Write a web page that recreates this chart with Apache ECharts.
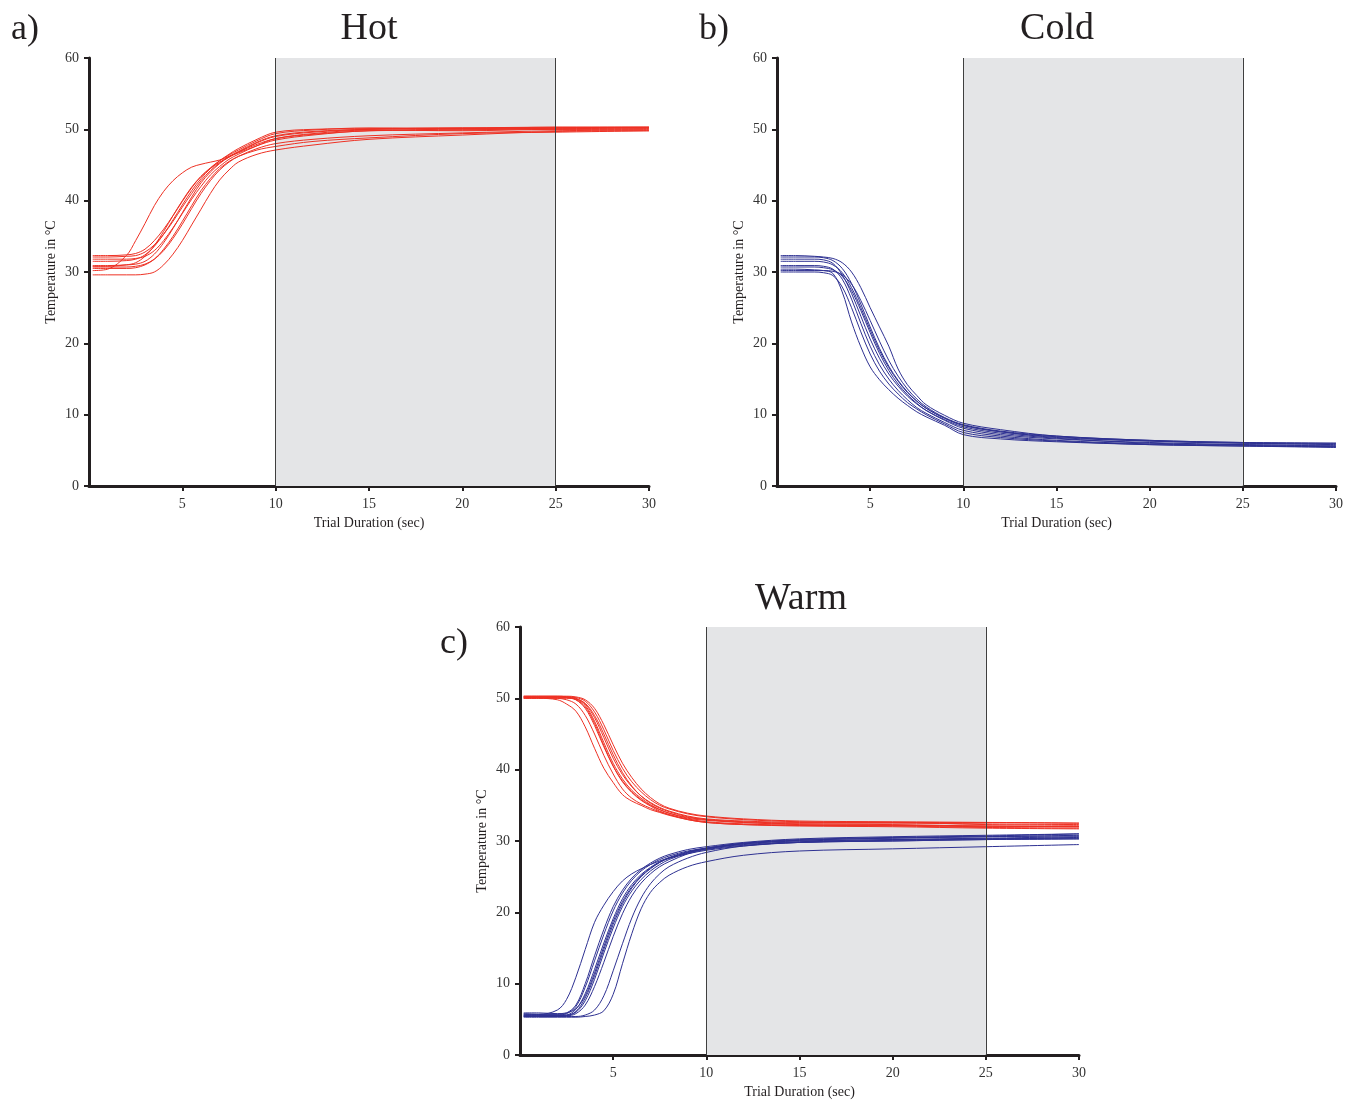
<!DOCTYPE html>
<html>
<head>
<meta charset="utf-8">
<script src="https://cdn.jsdelivr.net/npm/echarts@6/dist/echarts.min.js"></script>
<style>
html,body{margin:0;padding:0;background:#fff;}
#chart{width:1359px;height:1100px;}
</style>
</head>
<body>
<div id="chart"></div>
<script>
// Sample times (sec)
const times = [0.2, 1, 2, 2.5, 3, 3.5, 4, 4.5, 5, 5.5, 6, 6.5, 7, 7.5, 8, 9, 10, 12, 15, 20, 25, 30];

// a) Hot trials (°C)
const hotRuns = [
  [30.2,30.4,32.3,34.4,36.8,39.3,41.3,42.8,43.9,44.7,45.1,45.4,45.7,46.2,46.7,47.7,48.5,49.2,49.8,49.9,50.2,50.3],
  [29.6,29.6,29.6,29.6,29.7,30.0,31.0,32.5,34.4,36.6,38.8,41.0,42.9,44.3,45.4,46.5,47.1,47.8,48.6,49.2,49.7,49.8],
  [32.3,32.3,32.4,32.6,33.2,34.4,36.0,37.9,39.9,41.8,43.4,44.6,45.6,46.4,47.1,48.4,49.4,49.9,50.2,50.1,50.3,50.3],
  [32.1,32.1,32.2,32.3,32.8,33.8,35.3,37.1,39.1,41.0,42.8,44.2,45.3,46.2,46.9,48.2,49.1,49.7,50.0,50.2,50.1,50.2],
  [31.8,31.8,31.8,31.9,32.2,33.0,34.4,36.2,38.2,40.2,42.0,43.6,44.8,45.8,46.5,47.7,48.7,49.4,49.9,49.8,50.0,50.0],
  [31.5,31.5,31.6,31.8,32.4,33.6,35.3,37.3,39.4,41.4,43.1,44.5,45.6,46.5,47.3,48.6,49.6,50.0,50.1,50.2,50.3,50.3],
  [30.9,30.9,31.0,31.1,31.5,32.5,34.1,36.1,38.3,40.5,42.5,44.0,45.2,46.1,46.8,47.9,48.7,49.3,49.8,50.0,50.0,50.1],
  [30.7,30.7,30.7,30.8,31.1,31.8,33.0,34.7,36.7,38.9,41.0,42.8,44.3,45.4,46.2,47.3,48.0,48.6,49.1,49.5,49.8,49.9],
  [30.5,30.5,30.5,30.6,31.0,31.8,33.2,35.0,37.1,39.3,41.4,43.1,44.5,45.5,46.2,47.1,47.6,48.3,48.8,49.4,49.6,49.8],
  [30.8,30.8,31.0,31.3,32.2,33.7,35.7,37.9,40.0,41.9,43.4,44.5,45.4,46.1,46.8,48.1,49.0,49.6,50.0,50.1,50.2,50.2]
];

// b) Cold trials (°C)
const coldRuns = [
  [30.4,30.4,30.3,30.2,29.8,27.2,23.0,19.5,16.7,14.9,13.5,12.3,11.3,10.4,9.7,8.5,7.2,6.6,6.2,5.8,5.6,5.4],
  [32.3,32.3,32.2,32.1,31.9,31.3,30.0,27.8,25.0,22.3,19.6,16.4,14.2,12.7,11.4,9.9,8.8,7.9,7.0,6.4,6.1,6.0],
  [32.1,32.1,32.1,32.0,31.6,30.5,28.4,25.5,22.3,19.3,16.8,14.8,13.2,11.9,10.9,9.5,8.5,7.6,6.8,6.3,6.0,5.9],
  [31.8,31.8,31.8,31.7,31.2,29.6,27.0,23.8,20.6,17.9,15.7,14.0,12.6,11.5,10.6,9.3,8.3,7.4,6.7,6.0,5.8,5.6],
  [31.5,31.5,31.5,31.4,31.0,29.9,27.8,25.0,21.9,19.0,16.6,14.7,13.1,11.9,10.9,9.5,8.5,7.6,6.9,6.3,6.0,5.8],
  [30.9,30.9,30.9,30.8,30.4,29.0,26.2,22.8,19.6,17.0,15.0,13.4,12.1,11.0,10.2,8.9,7.8,7.0,6.4,5.9,5.7,5.5],
  [30.7,30.7,30.7,30.6,30.3,29.4,27.4,24.6,21.5,18.6,16.2,14.3,12.8,11.6,10.6,9.2,8.1,7.2,6.6,6.1,5.8,5.7],
  [30.2,30.2,30.2,30.2,30.1,29.6,28.3,26.0,23.2,20.3,17.6,15.4,13.6,12.2,11.1,9.6,8.6,7.7,7.0,6.4,6.1,6.0],
  [30.0,30.0,30.0,29.9,29.5,27.9,25.0,21.6,18.5,16.1,14.3,12.9,11.7,10.8,10.0,8.7,7.5,6.8,6.3,5.8,5.6,5.5]
];

// c) Warm trials starting hot (°C)
const warmFromHot = [
  [50.0,50.0,49.8,49.2,48.2,46.0,43.0,40.2,38.2,36.5,35.6,35.0,34.4,34.0,33.6,33.0,32.6,32.3,32.2,32.1,31.9,31.8],
  [50.1,50.1,50.0,49.8,49.2,47.6,45.0,42.0,39.4,37.3,36.0,35.2,34.6,34.1,33.7,33.1,32.7,32.4,32.2,32.2,32.0,32.0],
  [50.3,50.3,50.3,50.2,49.8,48.6,46.2,43.2,40.5,38.4,36.9,35.8,35.0,34.4,33.9,33.3,33.0,32.7,32.5,32.5,32.4,32.3],
  [50.2,50.2,50.2,50.2,50.0,49.2,47.3,44.5,41.6,39.3,37.6,36.3,35.4,34.7,34.2,33.5,33.1,32.8,32.6,32.6,32.3,32.2],
  [50.2,50.2,50.2,50.2,50.1,49.6,48.1,45.6,42.7,40.2,38.3,36.9,35.8,35.0,34.5,33.8,33.4,33.0,32.7,32.6,32.6,32.5],
  [50.1,50.1,50.1,50.1,49.9,49.0,46.8,43.8,40.9,38.7,37.1,36.0,35.1,34.4,33.9,33.2,32.9,32.6,32.4,32.3,32.1,32.0],
  [50.3,50.3,50.3,50.3,50.2,49.8,48.6,46.3,43.5,40.9,38.9,37.3,36.1,35.2,34.6,33.9,33.5,33.1,32.8,32.7,32.6,32.5],
  [50.2,50.2,50.2,50.1,49.8,48.8,46.5,43.4,40.5,38.3,36.8,35.7,34.9,34.2,33.7,33.0,32.6,32.3,32.1,32.0,31.8,31.7],
  [50.0,50.0,50.0,50.0,49.9,49.3,47.6,45.0,42.1,39.6,37.7,36.3,35.3,34.6,34.1,33.4,33.0,32.6,32.3,32.2,32.1,32.0]
];

// c) Warm trials starting cold (°C)
const warmFromCold = [
  [5.8,5.7,6.3,7.8,10.9,14.8,18.6,21.0,22.9,24.4,25.4,26.1,26.7,27.2,27.6,28.2,28.7,29.3,29.8,30.1,30.3,30.5],
  [5.3,5.3,5.3,5.3,5.3,5.4,5.6,6.2,8.5,12.8,17.0,20.5,22.8,24.2,25.2,26.4,27.1,28.0,28.6,28.9,29.2,29.5],
  [5.4,5.4,5.4,5.4,5.4,5.6,6.3,8.3,11.8,15.6,19.2,22.0,24.0,25.4,26.4,27.6,28.4,29.3,29.8,30.0,30.2,30.3],
  [5.6,5.6,5.6,5.8,6.8,9.5,13.2,16.9,20.2,22.7,24.5,25.8,26.7,27.4,27.9,28.6,29.0,29.7,30.2,30.5,30.7,31.0],
  [5.5,5.5,5.5,5.6,6.4,8.6,12.0,15.7,19.1,21.9,23.9,25.3,26.3,27.1,27.7,28.5,29.0,29.7,30.1,30.4,30.6,30.8],
  [5.7,5.7,5.7,5.9,7.0,10.0,13.9,17.6,20.8,23.1,24.8,26.0,26.9,27.6,28.1,28.8,29.2,29.8,30.3,30.6,30.8,31.0],
  [5.4,5.4,5.4,5.5,6.1,8.0,11.1,14.8,18.3,21.2,23.4,25.0,26.1,27.0,27.6,28.4,28.9,29.6,30.0,30.2,30.4,30.6],
  [5.9,5.9,5.8,5.9,6.5,8.3,11.5,15.2,18.7,21.5,23.6,25.1,26.2,27.0,27.6,28.4,29.0,29.6,30.1,30.4,30.6,30.7],
  [5.6,5.6,5.6,5.6,6.0,7.6,10.6,14.3,17.8,20.8,23.0,24.6,25.8,26.7,27.4,28.3,28.9,29.5,29.9,30.2,30.3,30.4],
  [5.5,5.5,5.5,5.5,5.8,7.0,9.6,13.0,16.6,19.8,22.3,24.1,25.4,26.4,27.1,28.2,28.8,29.4,29.8,30.0,30.2,30.3]
];

// Axis ticks / stimulus window
const xTicks = [0, 5, 10, 15, 20, 25, 30];
const yTicks = [0, 10, 20, 30, 40, 50, 60];
const windowStart = 10, windowEnd = 25;

const RED = '#ee3124';
const BLUE = '#2e3192';
const INK = '#231f20';
const FONT = '"Liberation Serif", "Times New Roman", serif';

const grids = [
  {left: 89, top: 58, width: 560, height: 428},
  {left: 777, top: 58, width: 559, height: 428},
  {left: 520, top: 627, width: 559, height: 428}
];

function xAxisFor(i) {
  return {
    gridIndex: i, type: 'value', min: xTicks[0], max: xTicks[xTicks.length - 1], interval: 5,
    name: 'Trial Duration (sec)', nameLocation: 'middle', nameGap: 30,
    nameTextStyle: {fontFamily: FONT, fontSize: 14, color: INK},
    axisLine: {show: true, onZero: false, lineStyle: {color: INK, width: 3}},
    axisTick: {show: true, length: 5, lineStyle: {color: INK, width: 2}},
    axisLabel: {showMinLabel: false, fontFamily: FONT, fontSize: 14, color: '#333', margin: 11},
    splitLine: {show: false}
  };
}
function yAxisFor(i) {
  return {
    gridIndex: i, type: 'value', min: yTicks[0], max: yTicks[yTicks.length - 1], interval: 10,
    name: 'Temperature in °C', nameLocation: 'middle', nameGap: 31, nameRotate: 90,
    nameTextStyle: {fontFamily: FONT, fontSize: 14, color: INK},
    axisLine: {show: true, onZero: false, lineStyle: {color: INK, width: 3}},
    axisTick: {show: true, length: 5, lineStyle: {color: INK, width: 2}},
    axisLabel: {fontFamily: FONT, fontSize: 14, color: '#333', margin: 10},
    splitLine: {show: false}
  };
}

const series = [];
function addBand(i) {
  series.push({
    type: 'line', xAxisIndex: i, yAxisIndex: i, data: [], silent: true, z: 1,
    markArea: {silent: true, itemStyle: {color: '#e4e5e7'}, data: [[{xAxis: windowStart}, {xAxis: windowEnd}]]},
    markLine: {silent: true, symbol: 'none', label: {show: false},
      lineStyle: {color: '#3f3f3f', width: 1, type: 'solid'},
      data: [{xAxis: windowStart}, {xAxis: windowEnd}]}
  });
}
function addRuns(runs, color, i) {
  runs.forEach(vals => {
    series.push({
      type: 'line', xAxisIndex: i, yAxisIndex: i, silent: true, z: 3,
      showSymbol: false, smooth: 0.35,
      lineStyle: {width: 1, color: color}, itemStyle: {color: color},
      data: times.map((t, k) => [t, vals[k]])
    });
  });
}
addBand(0); addBand(1); addBand(2);
addRuns(hotRuns, RED, 0);
addRuns(coldRuns, BLUE, 1);
addRuns(warmFromHot, RED, 2);
addRuns(warmFromCold, BLUE, 2);

function txt(s, x, y, size) {
  return {type: 'text', x: x, y: y, style: {text: s, fontFamily: FONT, fontSize: size, fill: INK, textAlign: 'center', textVerticalAlign: 'middle'}};
}

const chart = echarts.init(document.getElementById('chart'), null, {renderer: 'canvas'});
chart.setOption({
  animation: false,
  backgroundColor: '#ffffff',
  grid: grids,
  xAxis: [xAxisFor(0), xAxisFor(1), xAxisFor(2)],
  yAxis: [yAxisFor(0), yAxisFor(1), yAxisFor(2)],
  series: series,
  graphic: [
    txt('Hot', 369, 29, 38),
    txt('Cold', 1057, 29, 38),
    txt('Warm', 801, 599, 38),
    txt('a)', 25, 30, 36),
    txt('b)', 714, 30, 36),
    txt('c)', 454, 644, 36)
  ]
});
</script>
</body>
</html>
